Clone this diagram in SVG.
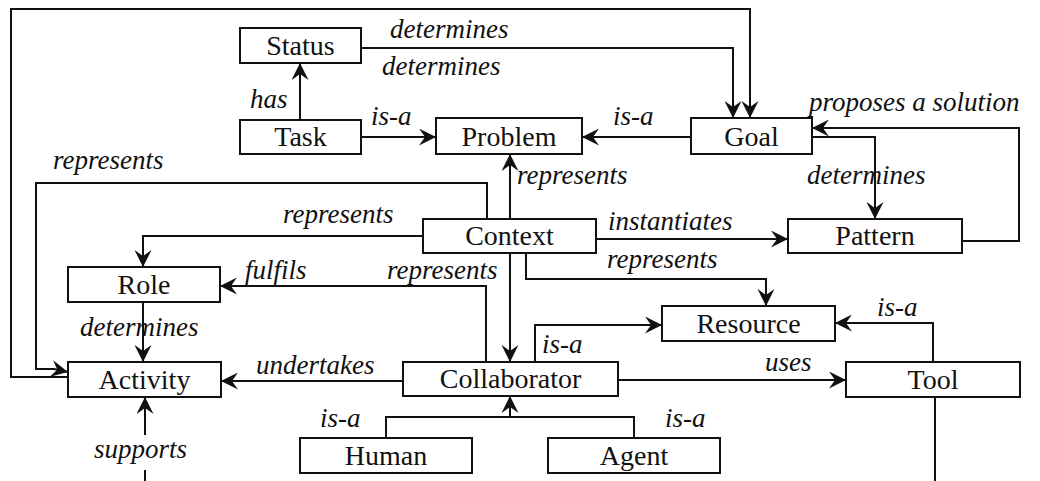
<svg xmlns="http://www.w3.org/2000/svg" width="1040" height="481" viewBox="0 0 1040 481">
  <style>
    .box { fill: #fff; stroke: #111; stroke-width: 2; }
    .name { font-family: "Liberation Serif", "Times New Roman", serif; font-size: 28px; fill: #111; text-anchor: middle; }
    .edge { fill: none; stroke: #111; stroke-width: 2; }
    .arr { marker-end: url(#head); }
    .lbl { font-family: "Liberation Serif", "Times New Roman", serif; font-style: italic; font-size: 27px; fill: #111; }
  </style>
  <defs>
    <marker id="head" viewBox="0 0 14 14" refX="14" refY="7" markerWidth="17" markerHeight="17" markerUnits="userSpaceOnUse" orient="auto">
      <path d="M0,0 L14,7 L0,14 L5,7 Z" fill="#111"/>
    </marker>
  </defs>
  <rect width="1040" height="481" fill="#fff"/>

  <!-- connectors -->
  <g id="connectors">
    <!-- Activity determines Goal (outer loop) -->
    <path class="edge arr" d="M68,377 H11 V9 H750 V118"/>
    <!-- Status determines Goal -->
    <path class="edge arr" d="M361,48 H733 V118"/>
    <!-- Task has Status -->
    <path class="edge arr" d="M300,120 V63"/>
    <!-- Task is-a Problem -->
    <path class="edge arr" d="M361,137 H436"/>
    <!-- Goal is-a Problem -->
    <path class="edge arr" d="M691,137 H582"/>
    <!-- Pattern proposes a solution Goal -->
    <path class="edge arr" d="M962,241 H1019 V128 H812"/>
    <!-- Goal determines Pattern -->
    <path class="edge arr" d="M812,137 H875 V219"/>
    <!-- Context represents Problem -->
    <path class="edge arr" d="M510,219 V154"/>
    <!-- Context represents Activity -->
    <path class="edge arr" d="M487,219 V183 H36 V369 H54 L68,372"/>
    <!-- Context represents Role -->
    <path class="edge arr" d="M423,236 H143 V267"/>
    <!-- Context instantiates Pattern -->
    <path class="edge arr" d="M596,239 H788"/>
    <!-- Context represents Resource -->
    <path class="edge arr" d="M526,253 V279 H766 V306"/>
    <!-- Context represents Collaborator -->
    <path class="edge arr" d="M510,253 V362"/>
    <!-- Collaborator fulfils Role -->
    <path class="edge arr" d="M486,362 V286 H220"/>
    <!-- Role determines Activity -->
    <path class="edge arr" d="M143,302 V362"/>
    <!-- Collaborator undertakes Activity -->
    <path class="edge arr" d="M403,381 H221"/>
    <!-- Collaborator is-a Resource -->
    <path class="edge arr" d="M535,362 V325 H662"/>
    <!-- Tool is-a Resource -->
    <path class="edge arr" d="M933,362 V323 H835"/>
    <!-- Collaborator uses Tool -->
    <path class="edge arr" d="M618,380 H846"/>
    <!-- Human / Agent is-a Collaborator -->
    <path class="edge" d="M386,438 V417 H634 V438"/>
    <path class="edge arr" d="M510,417 V396"/>
    <!-- Tool supports Activity -->
    <path class="edge" d="M935,397 V484 H145 V470"/>
    <path class="edge arr" d="M145,435 V397"/>

    <!-- edge labels -->
    <text class="lbl" x="390" y="38">determines</text>
    <text class="lbl" x="382" y="75">determines</text>
    <text class="lbl" x="250" y="108">has</text>
    <text class="lbl" x="371" y="125">is-a</text>
    <text class="lbl" x="613" y="125">is-a</text>
    <text class="lbl" x="809" y="111">proposes a solution</text>
    <text class="lbl" x="53" y="169">represents</text>
    <text class="lbl" x="517" y="184">represents</text>
    <text class="lbl" x="807" y="184">determines</text>
    <text class="lbl" x="283" y="223">represents</text>
    <text class="lbl" x="608" y="230">instantiates</text>
    <text class="lbl" x="607" y="268">represents</text>
    <text class="lbl" x="245" y="279">fulfils</text>
    <text class="lbl" x="387" y="279">represents</text>
    <text class="lbl" x="877" y="316">is-a</text>
    <text class="lbl" x="80" y="336">determines</text>
    <text class="lbl" x="542" y="353">is-a</text>
    <text class="lbl" x="256" y="374">undertakes</text>
    <text class="lbl" x="765" y="371">uses</text>
    <text class="lbl" x="320" y="427">is-a</text>
    <text class="lbl" x="665" y="427">is-a</text>
    <text class="lbl" x="94" y="458">supports</text>
  </g>

  <!-- nodes -->
  <g id="status"><rect class="box" x="240" y="28" width="121" height="35"/><text class="name" x="300.5" y="55">Status</text></g>
  <g id="task"><rect class="box" x="240" y="120" width="121" height="34"/><text class="name" x="300.5" y="146">Task</text></g>
  <g id="problem"><rect class="box" x="436" y="118" width="146" height="36"/><text class="name" x="509" y="146">Problem</text></g>
  <g id="goal"><rect class="box" x="691" y="118" width="121" height="36"/><text class="name" x="751.5" y="146">Goal</text></g>
  <g id="context"><rect class="box" x="423" y="219" width="173" height="34"/><text class="name" x="509.5" y="245">Context</text></g>
  <g id="pattern"><rect class="box" x="788" y="219" width="174" height="34"/><text class="name" x="875" y="245">Pattern</text></g>
  <g id="role"><rect class="box" x="68" y="267" width="152" height="35"/><text class="name" x="144" y="294">Role</text></g>
  <g id="resource"><rect class="box" x="662" y="306" width="173" height="35"/><text class="name" x="748.5" y="333">Resource</text></g>
  <g id="activity"><rect class="box" x="68" y="362" width="153" height="35"/><text class="name" x="144.5" y="389">Activity</text></g>
  <g id="collaborator"><rect class="box" x="403" y="362" width="215" height="34"/><text class="name" x="510.5" y="388">Collaborator</text></g>
  <g id="tool"><rect class="box" x="846" y="362" width="174" height="35"/><text class="name" x="933" y="389">Tool</text></g>
  <g id="human"><rect class="box" x="300" y="438" width="172" height="35"/><text class="name" x="386" y="465">Human</text></g>
  <g id="agent"><rect class="box" x="548" y="438" width="172" height="35"/><text class="name" x="634" y="465">Agent</text></g>
</svg>
